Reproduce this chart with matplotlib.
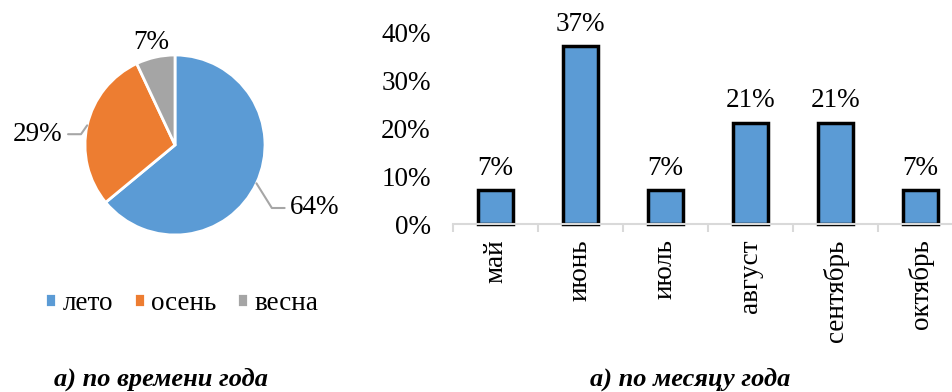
import numpy as np
import matplotlib.pyplot as plt

plt.rcParams['font.family'] = ['Liberation Serif', 'DejaVu Serif']

seasons = ['лето', 'осень', 'весна']
season_share = [64, 29, 7]
season_colors = ['#5B9BD5', '#ED7D31', '#A5A5A5']

months = ['май', 'июнь', 'июль', 'август', 'сентябрь', 'октябрь']
month_share = [0.07, 0.37, 0.07, 0.21, 0.21, 0.07]
month_labels = ['7%', '37%', '7%', '21%', '21%', '7%']

fs = 19.5

fig = plt.figure(figsize=(9.52, 3.92), dpi=100)

# --- pie ---
ax1 = fig.add_axes([85 / 952, (392 - 235) / 392, 180 / 952, 180 / 392])
wedges, _ = ax1.pie(season_share, colors=season_colors, startangle=90,
                    counterclock=False, radius=1,
                    wedgeprops=dict(edgecolor='white', linewidth=2))
ax1.set_xlim(-1, 1)
ax1.set_ylim(-1, 1)
ax1.set_aspect('equal')

mids = [np.deg2rad((w.theta1 + w.theta2) / 2) for w in wedges]
lc = '#A6A6A6'
# лето
m = mids[0]
ax1.annotate(f'{season_share[0]}%', xy=(np.cos(m), np.sin(m)), xytext=(1.28, -0.70),
             ha='left', va='center', fontsize=fs, annotation_clip=False,
             arrowprops=dict(arrowstyle='-', color=lc, lw=1.5, shrinkA=2, shrinkB=0,
                             connectionstyle='angle,angleA=0,angleB=-58,rad=0'))
# осень
m = mids[1]
ax1.annotate(f'{season_share[1]}%', xy=(np.cos(m), np.sin(m)), xytext=(-1.25, 0.12),
             ha='right', va='center', fontsize=fs, annotation_clip=False,
             arrowprops=dict(arrowstyle='-', color=lc, lw=1.5, shrinkA=2, shrinkB=0,
                             connectionstyle='angle,angleA=0,angleB=55,rad=0'))
# весна
m = mids[2]
ax1.text(1.2 * np.cos(m), 1.17 * np.sin(m), f'{season_share[2]}%', ha='center',
         va='center', fontsize=fs, clip_on=False)

fig.legend(wedges, seasons, loc='center', bbox_to_anchor=(182 / 952, 1 - 303 / 392),
           ncol=3, frameon=False, fontsize=fs, handlelength=0.4, handleheight=0.4,
           handletextpad=0.25, columnspacing=0.75)

# --- bars ---
ax2 = fig.add_axes([453 / 952, (392 - 224) / 392, (952 - 453) / 952, 192 / 392])
x = np.arange(len(months))
bars = ax2.bar(x, month_share, width=0.42, color='#5B9BD5', edgecolor='black',
               linewidth=2.5)
ax2.bar_label(bars, labels=month_labels, padding=7, fontsize=fs)
ax2.set_ylim(0, 0.4)
ax2.set_xlim(-0.5, 5.37)
ax2.set_yticks([0, 0.1, 0.2, 0.3, 0.4])
ax2.set_yticklabels(['0%', '10%', '20%', '30%', '40%'], fontsize=fs)
ax2.set_xticks(x)
ax2.set_xticklabels(months, rotation=90, fontsize=fs)
ax2.set_xticks(np.arange(-0.5, 5.5, 1), minor=True)
ax2.tick_params(axis='y', length=0, pad=16)
ax2.tick_params(axis='x', which='major', length=0, pad=11)
ax2.tick_params(axis='x', which='minor', length=6, width=1.5, color='#D9D9D9')
for s in ['top', 'right', 'left']:
    ax2.spines[s].set_visible(False)
ax2.spines['bottom'].set_color('#D9D9D9')
ax2.spines['bottom'].set_linewidth(1.5)
ax2.spines['bottom'].set_clip_on(False)
for b in bars:
    b.set_clip_on(False)

# --- captions ---
fig.text(161 / 952, 1 - 379 / 392, 'а) по времени года', ha='center', va='center',
         fontsize=19, style='italic', weight='bold')
fig.text(690 / 952, 1 - 379 / 392, 'а) по месяцу года', ha='center', va='center',
         fontsize=19, style='italic', weight='bold')

fig.savefig('out.png', dpi=100)
